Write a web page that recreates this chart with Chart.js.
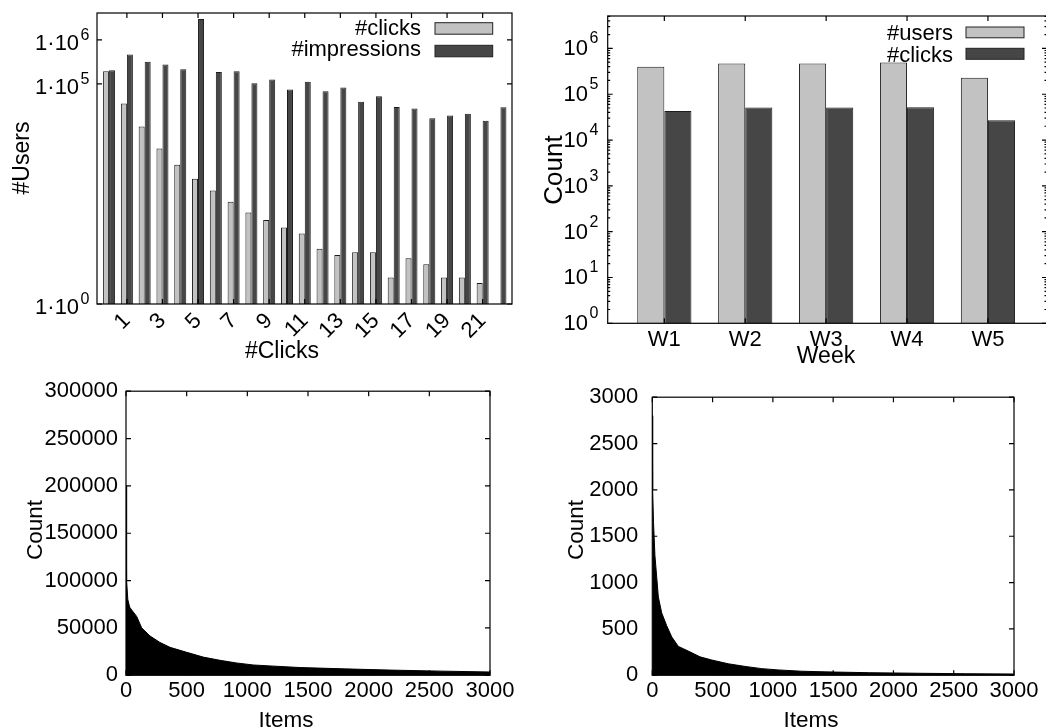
<!DOCTYPE html>
<html><head><meta charset="utf-8">
<script src="https://cdn.jsdelivr.net/npm/chart.js@4.4.1/dist/chart.umd.min.js"></script>
<style>
html,body{margin:0;padding:0;background:#fff;overflow:hidden;width:1046px;height:728px;position:relative;}
canvas{position:absolute;}
</style></head><body>
<canvas id="cA" width="520" height="370" style="left:0;top:0"></canvas>
<canvas id="cB" width="530" height="370" style="left:520px;top:0"></canvas>
<canvas id="cC" width="520" height="358" style="left:0;top:370px"></canvas>
<canvas id="cD" width="526" height="358" style="left:520px;top:370px"></canvas>
<script>
// ---------- DATA ----------
const clickCats = [0,1,2,3,4,5,6,7,8,9,10,11,12,13,14,15,16,17,18,19,20,21,22];
const usersByClicks = [194000,36000,10700,3400,1450,700,380,210,120,81,55,40,18,13,15,15,4,11,8,4,4,3,null];
const usersByImpressions = [204000,464000,316000,275000,215000,2980000,187000,194000,103000,125000,74000,111000,68000,83000,39000,52000,30000,27600,16600,19200,21000,14500,29500];
const clickTicks = [1,3,5,7,9,11,13,15,17,19,21];
const clickYTicks = [1,1e5,1e6];

const weeks = ['W1','W2','W3','W4','W5'];
const weekPos = [0,1,2,3,4];
const weeklyUsers = [398000,471000,471000,495000,229000];
const weeklyClicks = [43000,51600,51600,52000,26900];
const weekYTicks = [1,10,100,1000,10000,100000,1000000];

const itemsA = [0,2,8,15,30,47,88,129,198,280,363,500,637,775,912,1049,1187,1434,1800,2175,2600,3000];
const countsA = [200000,125000,100000,80000,72000,69000,62200,50100,41500,34700,29500,24300,19200,15800,13000,10900,9900,8200,6800,5500,4400,3500];
const itemsB = [0,3,10,22,50,78,119,161,216,299,396,493,631,769,907,1045,1239,1432,1800,2200,2600,3000];
const countsB = [2800,2000,1650,1290,845,673,536,415,312,261,199,165,124,96,72,58,44,37,28,22,17,14];
const itemXTicks = [0,500,1000,1500,2000,2500,3000];
const countATicks = [0,50000,100000,150000,200000,250000,300000];
const countBTicks = [0,500,1000,1500,2000,2500,3000];

// ---------- STYLE ----------
const FONT = "'Liberation Sans', Arial, Helvetica, sans-serif";
const LIGHT = '#c2c2c2', DARK = '#464646', EDGE = '#1c1c1c';
Chart.defaults.font.family = FONT;
Chart.defaults.font.size = 22;
Chart.defaults.color = '#000';

const decor = {
  cA: {
    xt: clickTicks, yt: clickYTicks,
    log: {vals: clickYTicks, base: '1\u00b710', gap: 7.5, mainDy: 10, expDy: 0, expSize: 16},
    titles: [
      {text: '#Users', x: 28.5, y: 158, rot: true, size: 23},
      {text: '#Clicks', x: 282, y: 358, size: 23}
    ],
    legend: [
      {text: '#clicks', right: 421, base: 35, box: [435, 22.7, 57.7, 11.5], color: LIGHT},
      {text: '#impressions', right: 421, base: 56, box: [435, 45.3, 57.7, 11.5], color: DARK}
    ]
  },
  cB: {
    xt: weekPos, yt: weekYTicks, minor: true,
    log: {vals: weekYTicks, base: '10', gap: 9.4, mainDy: 7, expDy: -5, expSize: 16},
    titles: [
      {text: 'Count', x: 41.5, y: 170, rot: true, size: 26},
      {text: 'Week', x: 306, y: 362.5, size: 23}
    ],
    legend: [
      {text: '#users', right: 433, base: 39.5, box: [446, 27, 58, 10.8], color: LIGHT},
      {text: '#clicks', right: 433, base: 61.5, box: [446, 48.3, 58, 11], color: DARK}
    ]
  },
  cC: {
    xt: itemXTicks, yt: countATicks,
    titles: [
      {text: 'Count', x: 41.5, y: 160, rot: true, size: 22.5},
      {text: 'Items', x: 286, y: 356.5, size: 22.5}
    ]
  },
  cD: {
    xt: itemXTicks, yt: countBTicks,
    titles: [
      {text: 'Count', x: 63.3, y: 160, rot: true, size: 22.5},
      {text: 'Items', x: 291, y: 356.5, size: 22.5}
    ]
  }
};

const gp = {
  id: 'gp',
  afterDraw(chart) {
    const o = decor[chart.canvas.id];
    const ctx = chart.ctx, a = chart.chartArea, xs = chart.scales.x, ys = chart.scales.y;
    ctx.save();
    ctx.strokeStyle = '#000';
    ctx.lineWidth = 1.2;
    const L = 5, M = 2.5;
    ctx.beginPath();
    o.xt.forEach(v => {
      const p = xs.getPixelForValue(v);
      ctx.moveTo(p, a.bottom); ctx.lineTo(p, a.bottom - L);
      ctx.moveTo(p, a.top); ctx.lineTo(p, a.top + L);
    });
    o.yt.forEach(v => {
      const p = ys.getPixelForValue(v);
      ctx.moveTo(a.left, p); ctx.lineTo(a.left + L, p);
      ctx.moveTo(a.right, p); ctx.lineTo(a.right - L, p);
    });
    if (o.minor) {
      for (let k = 0; k <= 6; k++) {
        for (let m = 2; m <= 9; m++) {
          const v = m * Math.pow(10, k);
          if (v >= ys.max) continue;
          const p = ys.getPixelForValue(v);
          ctx.moveTo(a.left, p); ctx.lineTo(a.left + M, p);
          ctx.moveTo(a.right, p); ctx.lineTo(a.right - M, p);
        }
      }
    }
    ctx.stroke();
    ctx.strokeRect(a.left, a.top, a.right - a.left, a.bottom - a.top);

    ctx.fillStyle = '#000';
    if (o.log) {
      const lg = o.log;
      lg.vals.forEach(v => {
        const p = ys.getPixelForValue(v);
        const e = String(Math.round(Math.log10(v)));
        ctx.font = lg.expSize + 'px ' + FONT;
        ctx.textAlign = 'right';
        ctx.textBaseline = 'alphabetic';
        const xr = a.left - lg.gap;
        ctx.fillText(e, xr, p + lg.expDy);
        const we = ctx.measureText(e).width;
        ctx.font = '22px ' + FONT;
        ctx.fillText(lg.base, xr - we - 1.5, p + lg.mainDy);
      });
    }
    (o.titles || []).forEach(t => {
      ctx.font = t.size + 'px ' + FONT;
      ctx.textAlign = 'center';
      ctx.textBaseline = 'alphabetic';
      if (t.rot) {
        ctx.save();
        ctx.translate(t.x, t.y);
        ctx.rotate(-Math.PI / 2);
        ctx.fillText(t.text, 0, 0);
        ctx.restore();
      } else {
        ctx.fillText(t.text, t.x, t.y);
      }
    });
    (o.legend || []).forEach(l => {
      ctx.font = '22px ' + FONT;
      ctx.textAlign = 'right';
      ctx.textBaseline = 'alphabetic';
      ctx.fillStyle = '#000';
      ctx.fillText(l.text, l.right, l.base);
      ctx.fillStyle = l.color;
      ctx.fillRect(l.box[0], l.box[1], l.box[2], l.box[3]);
      ctx.lineWidth = 1;
      ctx.strokeStyle = '#222';
      ctx.strokeRect(l.box[0], l.box[1], l.box[2], l.box[3]);
    });
    ctx.restore();
  }
};

const noGrid = {display: false, drawTicks: false};
const noBorder = {display: false};

function setTicks(list) { return s => { s.ticks = list.map(v => ({value: v})); }; }

// ---------- Chart A: users by #clicks ----------
new Chart(document.getElementById('cA'), {
  type: 'bar',
  data: {datasets: [
    {label: '#clicks', data: clickCats.map((c, i) => ({x: c, y: usersByClicks[i]})),
     backgroundColor: LIGHT, borderColor: EDGE, borderWidth: 1, categoryPercentage: 0.675, barPercentage: 1},
    {label: '#impressions', data: clickCats.map((c, i) => ({x: c, y: usersByImpressions[i]})),
     backgroundColor: DARK, borderColor: EDGE, borderWidth: 1, categoryPercentage: 0.675, barPercentage: 1}
  ]},
  options: {
    responsive: false, animation: false,
    layout: {padding: {top: 13, right: 8, left: 0, bottom: 0}},
    scales: {
      x: {type: 'linear', offset: false, min: -0.68, max: 22.65, grid: {display: false, drawTicks: false, offset: false}, border: noBorder,
          afterBuildTicks: setTicks(clickTicks), afterFit: s => { s.height = 66; },
          ticks: {autoSkip: false, minRotation: 45, maxRotation: 45, padding: 4, callback: v => String(v)}},
      y: {type: 'logarithmic', min: 1, max: 4.07e6, grid: noGrid, border: noBorder,
          afterBuildTicks: setTicks(clickYTicks), afterFit: s => { s.width = 97; },
          ticks: {display: false}}
    },
    plugins: {legend: {display: false}, tooltip: {enabled: false}}
  },
  plugins: [gp]
});

// ---------- Chart B: weekly ----------
new Chart(document.getElementById('cB'), {
  type: 'bar',
  data: {datasets: [
    {label: '#users', data: weekPos.map((w, i) => ({x: w, y: weeklyUsers[i]})),
     backgroundColor: LIGHT, borderColor: EDGE, borderWidth: 1, categoryPercentage: 0.67, barPercentage: 1},
    {label: '#clicks', data: weekPos.map((w, i) => ({x: w, y: weeklyClicks[i]})),
     backgroundColor: DARK, borderColor: EDGE, borderWidth: 1, categoryPercentage: 0.67, barPercentage: 1}
  ]},
  options: {
    responsive: false, animation: false,
    layout: {padding: {top: 16, right: 3, left: 0, bottom: 0}},
    scales: {
      x: {type: 'linear', offset: false, min: -0.70, max: 4.73, grid: {display: false, drawTicks: false, offset: false}, border: noBorder,
          afterBuildTicks: setTicks(weekPos), afterFit: s => { s.height = 46.7; },
          ticks: {autoSkip: false, maxRotation: 0, padding: 3, callback: v => weeks[v]}},
      y: {type: 'logarithmic', min: 1, max: 5.1e6, grid: noGrid, border: noBorder,
          afterBuildTicks: setTicks(weekYTicks), afterFit: s => { s.width = 87.7; },
          ticks: {display: false}}
    },
    plugins: {legend: {display: false}, tooltip: {enabled: false}}
  },
  plugins: [gp]
});

// ---------- Chart C & D: item popularity ----------
function areaChart(id, xs, ys, yMax, yTicks, yW, yPad, rightPad) {
  new Chart(document.getElementById(id), {
    type: 'line',
    data: {datasets: [{data: xs.map((x, i) => ({x: x, y: ys[i]})), fill: 'origin',
      backgroundColor: '#000', borderColor: '#000', borderWidth: 1, pointRadius: 0, tension: 0}]},
    options: {
      responsive: false, animation: false,
      layout: {padding: {top: 14.3, right: rightPad, left: 0, bottom: 0}},
      scales: {
        x: {type: 'linear', min: 0, max: 3000, grid: noGrid, border: noBorder,
            afterBuildTicks: setTicks(itemXTicks), afterFit: s => { s.height = 52.7; },
            ticks: {autoSkip: false, maxRotation: 0, padding: 2, callback: v => String(v)}},
        y: {type: 'linear', min: 0, max: yMax, grid: noGrid, border: noBorder,
            afterBuildTicks: setTicks(yTicks), afterFit: s => { s.width = yW; },
            ticks: {padding: yPad, callback: v => String(v)}}
      },
      plugins: {legend: {display: false}, tooltip: {enabled: false}}
    },
    plugins: [gp]
  });
}
areaChart('cC', itemsA, countsA, 300000, countATicks, 126, 8, 30);
areaChart('cD', itemsB, countsB, 3000, countBTicks, 132.3, 14, 32);
</script>
</body></html>
